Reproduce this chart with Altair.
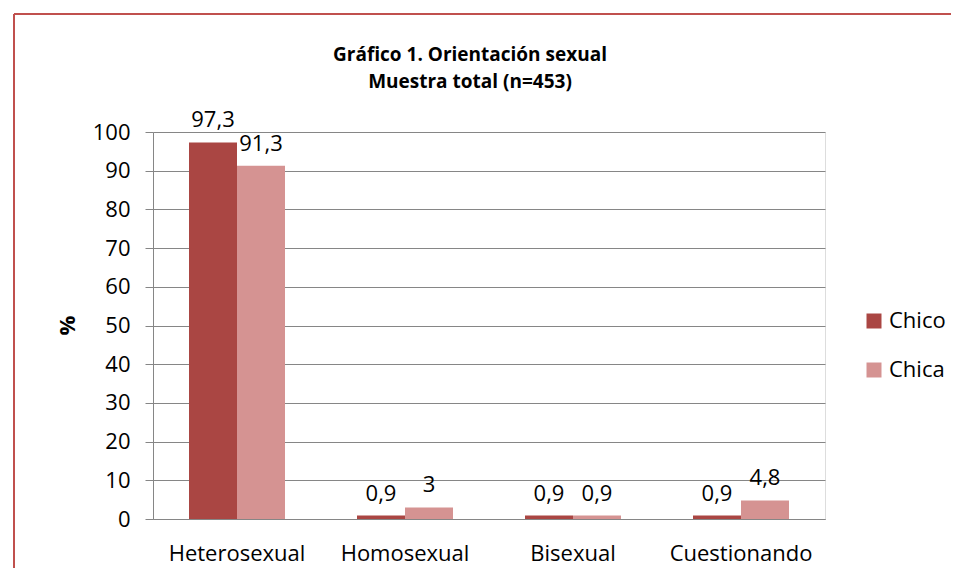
import altair as alt
import pandas as pd

categories = ["Heterosexual", "Homosexual", "Bisexual", "Cuestionando"]
series = ["Chico", "Chica"]
chico = [97.3, 0.9, 0.9, 0.9]
chica = [91.3, 3, 0.9, 4.8]
colors = ["#AA4643", "#D59392"]

rows = []
for c, a, b in zip(categories, chico, chica):
    for s, v in zip(series, [a, b]):
        rows.append({"cat": c, "serie": s, "valor": v,
                     "etiqueta": (f"{v:g}").replace(".", ",")})
df = pd.DataFrame(rows)

FONT = "Open Sans"
FS = 22
W, H = 672, 387
PL, PT = 145, 124

x_enc = alt.X("cat:N", sort=categories, title=None,
              scale=alt.Scale(paddingInner=0.4286, paddingOuter=0.2143),
              axis=alt.Axis(labelAngle=0, ticks=False, labelPadding=24,
                            labelFontSize=FS, labelColor="#000000",
                            domainColor="#868686", labelFont=FONT))
xo_enc = alt.XOffset("serie:N", sort=series,
                     scale=alt.Scale(paddingInner=0, paddingOuter=0))
y_enc = alt.Y("valor:Q", scale=alt.Scale(domain=[0, 100], nice=False),
              title="%",
              axis=alt.Axis(values=list(range(0, 101, 10)), tickSize=8,
                            labelPadding=15, labelFontSize=FS, labelFont=FONT,
                            labelColor="#000000", labelOverlap=False,
                            tickColor="#868686", domainColor="#868686",
                            gridColor="#868686", grid=True,
                            titleFont=FONT, titleFontSize=FS,
                            titleFontWeight="bold", titleAngle=270,
                            titleX=-86, titleY=193, titleAlign="center",
                            titleBaseline="middle", titleColor="#000000"))

bars = alt.Chart(df).mark_bar().encode(
    x=x_enc,
    xOffset=xo_enc,
    y=y_enc,
    color=alt.Color("serie:N", sort=series,
                    scale=alt.Scale(domain=series, range=colors),
                    legend=alt.Legend(title=None, orient="none",
                                      legendX=710, legendY=178,
                                      symbolType="square", symbolSize=225,
                                      symbolStrokeWidth=0, labelFontSize=FS,
                                      labelFont=FONT, labelColor="#000000",
                                      rowPadding=27, labelOffset=4)),
)

labels = alt.Chart(df).mark_text(baseline="alphabetic", dy=-15,
                                 fontSize=FS, font=FONT,
                                 color="#000000").encode(
    x=x_enc,
    xOffset=xo_enc,
    y=y_enc,
    text="etiqueta:N",
)

border_top = alt.Chart(df).mark_rule(color="#C0504D", strokeWidth=2).encode(
    x=alt.value(-139), x2=alt.value(810), y=alt.value(-118))
border_left = alt.Chart(df).mark_rule(color="#C0504D", strokeWidth=2).encode(
    x=alt.value(-139), y=alt.value(-118), y2=alt.value(450))

chart = alt.layer(bars, labels, border_top, border_left).properties(
    width=W, height=H,
    title=alt.TitleParams(
        text=["Gráfico 1. Orientación sexual", "Muestra total (n=453)"],
        font=FONT, fontSize=19, fontWeight="bold", color="#000000",
        anchor="middle", frame="group", dx=-19, offset=-79, lineHeight=27),
    autosize=alt.AutoSizeParams(type="none"),
    padding={"left": PL, "top": PT, "right": 126, "bottom": 49},
).configure_view(stroke=None).configure(background="#FFFFFF")

chart.save("out.html", embed_options={"renderer": "svg", "actions": False})
